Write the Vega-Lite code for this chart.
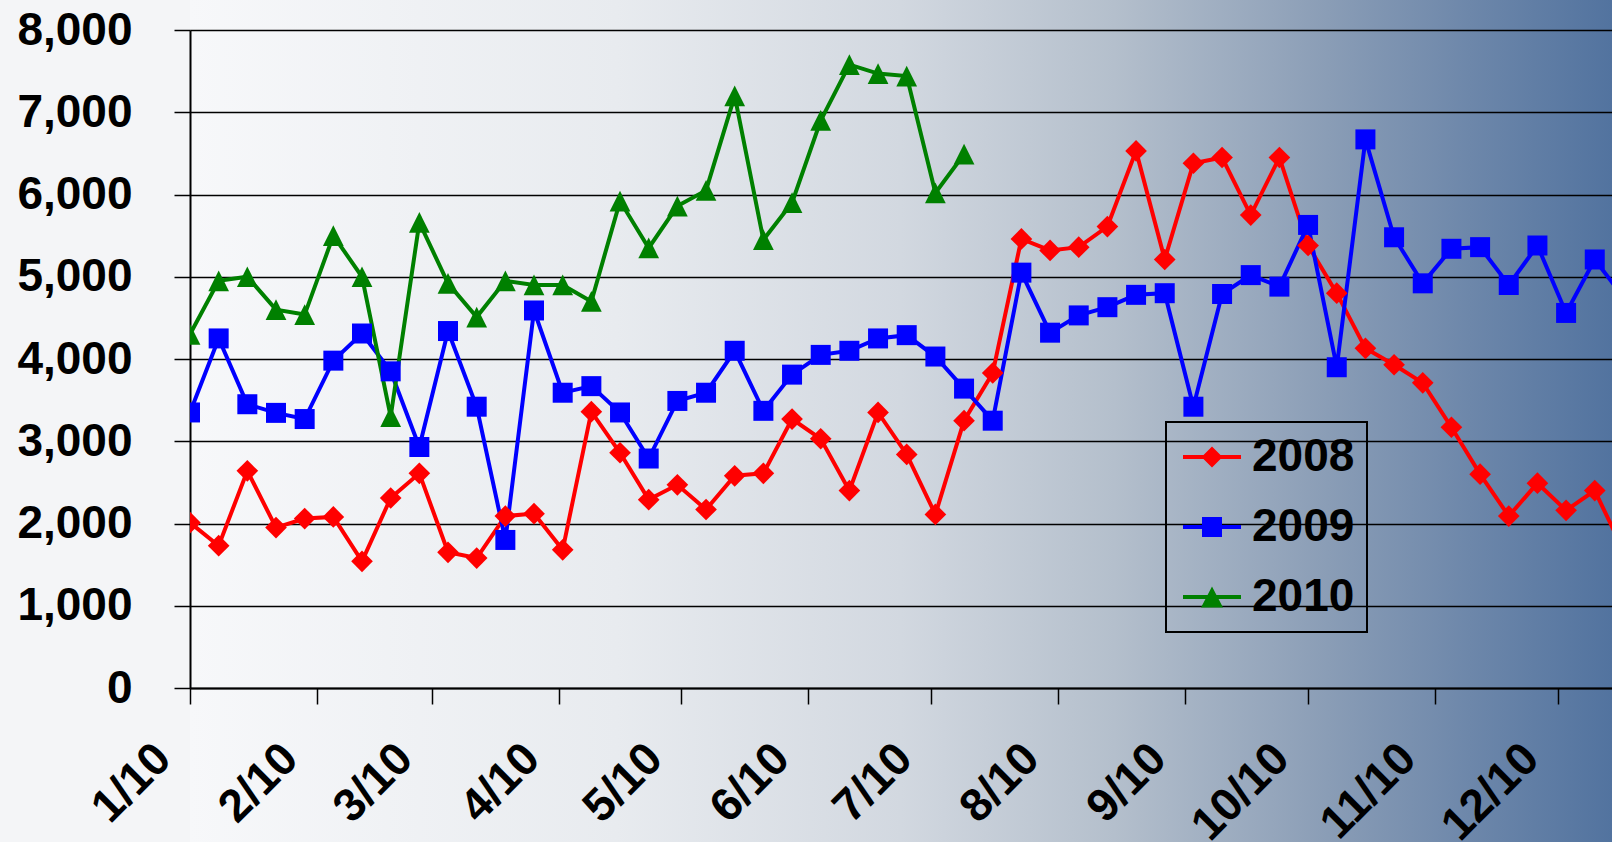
{
  "$schema": "https://vega.github.io/schema/vega-lite/v6.json",
  "width": 1422,
  "height": 842,
  "autosize": {"type": "none"},
  "padding": {"left": 190, "top": 0, "right": 0, "bottom": 0},
  "background": "#f4f5f7",
  "config": {
    "view": {
      "stroke": null,
      "fill": {
        "gradient": "linear",
        "x1": 0, "y1": 0, "x2": 1, "y2": 0,
        "stops": [
          {"offset": 0, "color": "#f7f8fa"},
          {"offset": 0.3, "color": "#e8ebef"},
          {"offset": 0.5, "color": "#d2d8e0"},
          {"offset": 0.65, "color": "#b4bfcc"},
          {"offset": 0.8, "color": "#8a9db6"},
          {"offset": 0.9, "color": "#6d87aa"},
          {"offset": 1, "color": "#52739f"}
        ]
      }
    },
    "legend": {"strokeWidth": 2},
    "font": "Liberation Sans"
  },
  "data": {
    "values": [
      {"date": "2010-01-01", "2008": 2010, "2009": 3350, "2010": 4300},
      {"date": "2010-01-08", "2008": 1730, "2009": 4250, "2010": 4950},
      {"date": "2010-01-15", "2008": 2640, "2009": 3450, "2010": 5000},
      {"date": "2010-01-22", "2008": 1950, "2009": 3345, "2010": 4600},
      {"date": "2010-01-29", "2008": 2060, "2009": 3270, "2010": 4540},
      {"date": "2010-02-05", "2008": 2080, "2009": 3980, "2010": 5500},
      {"date": "2010-02-12", "2008": 1540, "2009": 4310, "2010": 5000},
      {"date": "2010-02-19", "2008": 2310, "2009": 3850, "2010": 3300},
      {"date": "2010-02-26", "2008": 2610, "2009": 2930, "2010": 5660},
      {"date": "2010-03-05", "2008": 1650, "2009": 4340, "2010": 4920},
      {"date": "2010-03-12", "2008": 1580, "2009": 3420, "2010": 4510},
      {"date": "2010-03-19", "2008": 2090, "2009": 1800, "2010": 4950},
      {"date": "2010-03-26", "2008": 2120, "2009": 4590, "2010": 4900},
      {"date": "2010-04-02", "2008": 1680, "2009": 3590, "2010": 4900},
      {"date": "2010-04-09", "2008": 3360, "2009": 3670, "2010": 4700},
      {"date": "2010-04-16", "2008": 2860, "2009": 3350, "2010": 5920},
      {"date": "2010-04-23", "2008": 2290, "2009": 2790, "2010": 5350},
      {"date": "2010-04-30", "2008": 2470, "2009": 3490, "2010": 5860},
      {"date": "2010-05-07", "2008": 2170, "2009": 3590, "2010": 6050},
      {"date": "2010-05-14", "2008": 2580, "2009": 4100, "2010": 7200},
      {"date": "2010-05-21", "2008": 2610, "2009": 3370, "2010": 5450},
      {"date": "2010-05-28", "2008": 3270, "2009": 3810, "2010": 5900},
      {"date": "2010-06-04", "2008": 3030, "2009": 4050, "2010": 6900},
      {"date": "2010-06-11", "2008": 2400, "2009": 4100, "2010": 7580},
      {"date": "2010-06-18", "2008": 3350, "2009": 4250, "2010": 7470},
      {"date": "2010-06-25", "2008": 2840, "2009": 4290, "2010": 7440},
      {"date": "2010-07-02", "2008": 2110, "2009": 4030, "2010": 6020},
      {"date": "2010-07-09", "2008": 3250, "2009": 3640, "2010": 6490},
      {"date": "2010-07-16", "2008": 3830, "2009": 3250},
      {"date": "2010-07-23", "2008": 5460, "2009": 5050},
      {"date": "2010-07-30", "2008": 5320, "2009": 4320},
      {"date": "2010-08-06", "2008": 5360, "2009": 4530},
      {"date": "2010-08-13", "2008": 5610, "2009": 4630},
      {"date": "2010-08-20", "2008": 6530, "2009": 4780},
      {"date": "2010-08-27", "2008": 5210, "2009": 4800},
      {"date": "2010-09-03", "2008": 6380, "2009": 3420},
      {"date": "2010-09-10", "2008": 6450, "2009": 4790},
      {"date": "2010-09-17", "2008": 5750, "2009": 5020},
      {"date": "2010-09-24", "2008": 6450, "2009": 4880},
      {"date": "2010-10-01", "2008": 5380, "2009": 5630},
      {"date": "2010-10-08", "2008": 4800, "2009": 3900},
      {"date": "2010-10-15", "2008": 4130, "2009": 6670},
      {"date": "2010-10-22", "2008": 3930, "2009": 5480},
      {"date": "2010-10-29", "2008": 3710, "2009": 4920},
      {"date": "2010-11-05", "2008": 3170, "2009": 5340},
      {"date": "2010-11-12", "2008": 2600, "2009": 5360},
      {"date": "2010-11-19", "2008": 2090, "2009": 4900},
      {"date": "2010-11-26", "2008": 2490, "2009": 5380},
      {"date": "2010-12-03", "2008": 2160, "2009": 4560},
      {"date": "2010-12-10", "2008": 2400, "2009": 5210},
      {"date": "2010-12-17", "2008": 1670, "2009": 4750}
    ]
  },
  "transform": [
    {"fold": ["2008", "2009", "2010"], "as": ["year", "value"]}
  ],
  "encoding": {
    "x": {
      "field": "date",
      "type": "temporal",
      "scale": {
        "type": "utc",
        "domain": [
          {"year": 2010, "month": 1, "date": 1, "utc": true},
          {"year": 2010, "month": 12, "date": 14, "hours": 5, "utc": true}
        ],
        "nice": false
      },
      "axis": {
        "title": null,
        "orient": "bottom",
        "offset": -154,
        "tickCount": {"interval": "month", "step": 1},
        "format": "%-m/%y",
        "labelAngle": -45,
        "labelAlign": "right",
        "labelBaseline": "middle",
        "labelFont": "Liberation Sans",
        "labelFontSize": 46,
        "labelFontWeight": "bold",
        "labelColor": "#000000",
        "labelPadding": 47,
        "labelOffset": -27,
        "labelOverlap": false,
        "labelFlush": false,
        "labelBound": false,
        "grid": false,
        "domainColor": "#000000",
        "domainWidth": 2,
        "tickColor": "#000000",
        "tickWidth": 1.5,
        "tickSize": 16
      }
    },
    "y": {
      "field": "value",
      "type": "quantitative",
      "scale": {"domain": [0, 8000], "range": [688, 30], "nice": false, "zero": true},
      "axis": {
        "title": null,
        "values": [0, 1000, 2000, 3000, 4000, 5000, 6000, 7000, 8000],
        "format": ",d",
        "grid": true,
        "gridColor": "#000000",
        "gridWidth": 1.5,
        "gridOpacity": 1,
        "domainColor": "#000000",
        "domainWidth": 2,
        "tickColor": "#000000",
        "tickWidth": 1.5,
        "tickSize": 16,
        "labelFont": "Liberation Sans",
        "labelFontSize": 46,
        "labelFontWeight": "bold",
        "labelColor": "#000000",
        "labelPadding": 42,
        "labelBaseline": "middle"
      }
    }
  },
  "layer": [
    {
      "mark": {"type": "line", "strokeWidth": 4, "clip": true},
      "encoding": {
        "color": {
          "field": "year",
          "type": "nominal",
          "scale": {"domain": ["2008", "2009", "2010"], "range": ["#ff0000", "#0000ff", "#008000"]},
          "legend": {
            "orient": "none",
            "legendX": 976,
            "legendY": 422,
            "title": null,
            "labelFont": "Liberation Sans",
            "labelFontSize": 46,
            "labelFontWeight": "bold",
            "labelColor": "#000000",
            "strokeColor": "#000000",
            "padding": 12,
            "rowPadding": 24,
            "symbolSize": 400,
            "symbolOffset": 11,
            "labelOffset": 17,
            "symbolStrokeWidth": 0,
            "encode": {
              "symbols": {
                "update": {
                  "shape": {"signal": "datum.value === '2008' ? 'M-2.9,-0.2H2.9V0.2H-2.9ZM-1.05,0L0,-1.05L1.05,0L0,1.05Z' : (datum.value === '2009' ? 'M-2.9,-0.2H2.9V0.2H-2.9ZM-1,-1H1V1H-1Z' : 'M-2.9,-0.2H2.9V0.2H-2.9ZM0,-1.05L1.1,1.05H-1.1Z')"},
                  "fill": {"scale": "color", "field": "value"},
                  "fillOpacity": {"value": 1},
                  "opacity": {"value": 1},
                  "strokeWidth": {"value": 0}
                }
              }
            }
          }
        }
      }
    },
    {
      "transform": [{"filter": {"field": "year", "equal": "2008"}}],
      "mark": {"type": "point", "shape": "diamond", "filled": true, "opacity": 1, "size": 470, "strokeWidth": 0, "color": "#ff0000", "clip": true}
    },
    {
      "transform": [{"filter": {"field": "year", "equal": "2009"}}],
      "mark": {"type": "point", "shape": "square", "filled": true, "opacity": 1, "size": 400, "strokeWidth": 0, "color": "#0000ff", "clip": true}
    },
    {
      "transform": [{"filter": {"field": "year", "equal": "2010"}}],
      "mark": {"type": "point", "shape": "M0,-1L1,1H-1Z", "filled": true, "opacity": 1, "size": 430, "strokeWidth": 0, "color": "#008000", "clip": true}
    }
  ]
}
